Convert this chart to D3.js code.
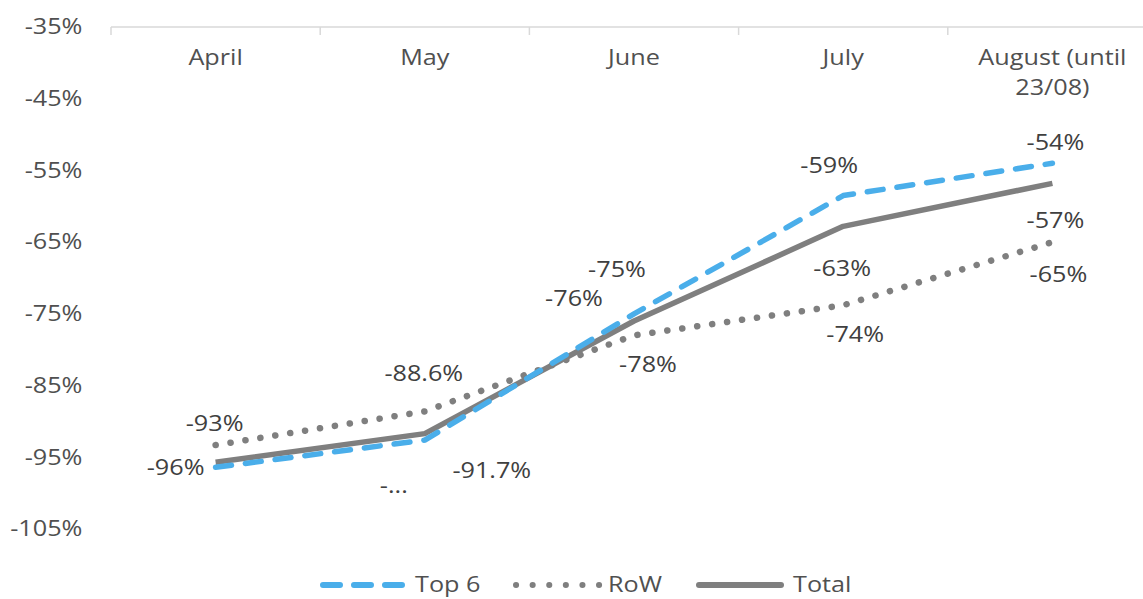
<!DOCTYPE html>
<html>
<head>
<meta charset="utf-8">
<script src="https://cdn.jsdelivr.net/npm/d3@7"></script>
<style>
  body { margin: 0; background: #ffffff; }
  svg { font-family: "Open Sans", sans-serif; }
</style>
</head>
<body>
<div id="chart"></div>
<script>
// data
var months = ["April", "May", "June", "July", "August (until 23/08)"];
var top6 = [-96.4, -92.6, -75, -58.5, -54];
var row = [-93.3, -88.6, -78, -73.8, -65];
var total = [-95.7, -91.7, -76, -62.8, -56.8];
var top6Labels = ["-96%", "-...", "-75%", "-59%", "-54%"];
var rowLabels = ["-93%", "-88.6%", "-78%", "-74%", "-65%"];
var totalLabels = [null, "-91.7%", "-76%", "-63%", "-57%"];
var yTicks = [-35, -45, -55, -65, -75, -85, -95, -105];

var width = 1143, height = 599;
var sx = 1.2; // the reference text is stretched sideways

var svg = d3.select("#chart").append("svg")
    .attr("width", width)
    .attr("height", height);

var x = d3.scaleBand().domain(months).range([111, 111 + 5 * 209.2]);
var y = d3.scaleLinear().domain([-35, -105]).range([27, 529]);
function cx(d) { return x(d) + x.bandwidth() / 2; }

// top category axis
var axisTop = svg.append("g");
axisTop.append("line")
    .attr("x1", x.range()[0]).attr("x2", width)
    .attr("y1", y(-35)).attr("y2", y(-35))
    .style("stroke", "#d9d9d9").style("stroke-width", 1.5);
axisTop.selectAll(".tk")
    .data(months)
    .enter().append("line")
    .attr("x1", function(d) { return x(d); })
    .attr("x2", function(d) { return x(d); })
    .attr("y1", y(-35)).attr("y2", y(-35) + 8)
    .style("stroke", "#d9d9d9").style("stroke-width", 1.5);

function stretchedText(parent, px, py, str, color, anchor) {
  return parent.append("text")
    .attr("transform", "translate(" + px + "," + py + ") scale(" + sx + ",1)")
    .attr("text-anchor", anchor || "middle")
    .attr("dy", "0.35em")
    .style("font-size", "21px")
    .style("fill", color)
    .text(str);
}

months.forEach(function(m) {
  if (m.indexOf("August") === 0) {
    stretchedText(svg, cx(m), 58, "August (until", "#505050");
    stretchedText(svg, cx(m), 88, "23/08)", "#505050");
  } else {
    stretchedText(svg, cx(m), 58, m, "#505050");
  }
});

// y axis labels only
var yAxis = svg.append("g")
    .attr("transform", "translate(86,0)")
    .call(d3.axisLeft(y).tickValues(yTicks).tickSize(0).tickPadding(3)
      .tickFormat(function(d) { return d + "%"; }));
yAxis.select(".domain").remove();
yAxis.selectAll("text")
    .attr("transform", "scale(" + sx + ",1)")
    .style("font-size", "21px")
    .style("font-family", "Open Sans, sans-serif")
    .style("fill", "#505050");

var line = d3.line()
    .x(function(d, i) { return cx(months[i]); })
    .y(function(d) { return y(d); });

svg.append("path").datum(total)
    .attr("d", line)
    .style("fill", "none").style("stroke", "#7f7f7f")
    .style("stroke-width", 5.5).style("stroke-linejoin", "round");

svg.append("path").datum(row)
    .attr("d", line)
    .style("fill", "none").style("stroke", "#7f7f7f")
    .style("stroke-width", 6.5).style("stroke-linecap", "round")
    .style("stroke-dasharray", "0.1,15");

svg.append("path").datum(top6)
    .attr("d", line)
    .style("fill", "none").style("stroke", "#4aaeea")
    .style("stroke-width", 5.5).style("stroke-linecap", "round")
    .style("stroke-linejoin", "round")
    .style("stroke-dasharray", "16,14");

// data labels, offsets from each point
var top6Off = [[-40, 0], [-31, 46], [-17, -44], [-14, -30], [3, -21]];
var rowOff = [[-1, -21], [-1, -38], [14, 29], [12, 29], [6, 33]];
var totalOff = [[0, 0], [67, 37], [-60, -22], [-1, 42], [3, 37]];

function addLabels(vals, labels, offs) {
  vals.forEach(function(v, i) {
    if (!labels[i]) return;
    stretchedText(svg, cx(months[i]) + offs[i][0], y(v) + offs[i][1], labels[i], "#404040");
  });
}
addLabels(top6, top6Labels, top6Off);
addLabels(row, rowLabels, rowOff);
addLabels(total, totalLabels, totalOff);

// legend
var ly = 585;
var leg = svg.append("g");
leg.append("line").attr("x1", 323).attr("x2", 403).attr("y1", ly).attr("y2", ly)
    .style("stroke", "#4aaeea").style("stroke-width", 6).style("stroke-linecap", "round")
    .style("stroke-dasharray", "17,14");
stretchedText(leg, 415, ly, "Top 6", "#505050", "start");
leg.append("line").attr("x1", 516).attr("x2", 600).attr("y1", ly).attr("y2", ly)
    .style("stroke", "#7f7f7f").style("stroke-width", 6).style("stroke-linecap", "round")
    .style("stroke-dasharray", "0.1,16.5");
stretchedText(leg, 608, ly, "RoW", "#505050", "start");
leg.append("line").attr("x1", 699).attr("x2", 781).attr("y1", ly).attr("y2", ly)
    .style("stroke", "#7f7f7f").style("stroke-width", 6).style("stroke-linecap", "round");
stretchedText(leg, 793, ly, "Total", "#505050", "start");
</script>
</body>
</html>
